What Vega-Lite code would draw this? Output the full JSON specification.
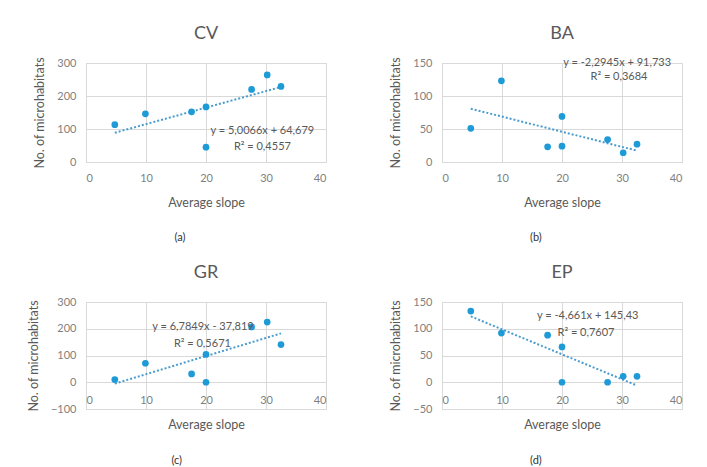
{
  "$schema": "https://vega.github.io/schema/vega-lite/v6.json",
  "background": "white",
  "padding": {"left": 26, "top": 24, "right": 5, "bottom": 0},
  "datasets": {
    "pts": [
      {"panel": "CV", "slope": 4.8, "n": 113},
      {"panel": "CV", "slope": 9.9, "n": 146},
      {"panel": "CV", "slope": 17.6, "n": 152},
      {"panel": "CV", "slope": 20, "n": 167},
      {"panel": "CV", "slope": 20, "n": 45},
      {"panel": "CV", "slope": 27.6, "n": 220},
      {"panel": "CV", "slope": 30.2, "n": 264},
      {"panel": "CV", "slope": 32.5, "n": 229},
      {"panel": "BA", "slope": 4.8, "n": 51},
      {"panel": "BA", "slope": 9.9, "n": 123},
      {"panel": "BA", "slope": 17.6, "n": 23},
      {"panel": "BA", "slope": 20, "n": 24},
      {"panel": "BA", "slope": 20, "n": 69},
      {"panel": "BA", "slope": 27.6, "n": 34},
      {"panel": "BA", "slope": 30.2, "n": 14},
      {"panel": "BA", "slope": 32.5, "n": 27},
      {"panel": "GR", "slope": 4.8, "n": 10},
      {"panel": "GR", "slope": 9.9, "n": 71},
      {"panel": "GR", "slope": 17.6, "n": 31},
      {"panel": "GR", "slope": 20, "n": 104},
      {"panel": "GR", "slope": 20, "n": 0},
      {"panel": "GR", "slope": 27.6, "n": 207},
      {"panel": "GR", "slope": 30.2, "n": 225},
      {"panel": "GR", "slope": 32.5, "n": 141},
      {"panel": "EP", "slope": 4.8, "n": 133},
      {"panel": "EP", "slope": 9.9, "n": 92},
      {"panel": "EP", "slope": 17.6, "n": 88},
      {"panel": "EP", "slope": 20, "n": 66},
      {"panel": "EP", "slope": 20, "n": 0},
      {"panel": "EP", "slope": 27.6, "n": 0},
      {"panel": "EP", "slope": 30.2, "n": 11},
      {"panel": "EP", "slope": 32.5, "n": 11}
    ],
    "trend": [
      {"panel": "CV", "slope": 4.8, "n": 88.7},
      {"panel": "CV", "slope": 32.5, "n": 227.4},
      {"panel": "BA", "slope": 4.8, "n": 80.7},
      {"panel": "BA", "slope": 32.5, "n": 17.2},
      {"panel": "GR", "slope": 4.8, "n": -5.2},
      {"panel": "GR", "slope": 32.5, "n": 182.7},
      {"panel": "EP", "slope": 4.8, "n": 123.1},
      {"panel": "EP", "slope": 32.5, "n": -6.1}
    ],
    "labels": [
      {"panel": "CV", "slope": 29.4, "n": 94, "text": "y = 5,0066x  + 64,679"},
      {"panel": "CV", "slope": 29.4, "n": 45, "text": "R² = 0,4557"},
      {"panel": "BA", "slope": 29.2, "n": 150, "text": "y = -2,2945x  + 91,733"},
      {"panel": "BA", "slope": 29.5, "n": 129, "text": "R² = 0,3684"},
      {"panel": "GR", "slope": 19.5, "n": 207, "text": "y = 6,7849x  - 37,819"},
      {"panel": "GR", "slope": 19.4, "n": 143, "text": "R² = 0,5671"},
      {"panel": "EP", "slope": 24.3, "n": 124, "text": "y = -4,661x  + 145,43"},
      {"panel": "EP", "slope": 24.0, "n": 92, "text": "R² = 0,7607"}
    ]
  },
  "vconcat": [
    {
      "hconcat": [
        {
          "title": {"text": "(a)", "orient": "bottom", "anchor": "middle", "fontSize": 11, "color": "#333333", "offset": 23},
          "vconcat": [
            {
              "width": 240, "height": 99,
              "title": {"text": "CV"},
              "encoding": {
                "x": {"field": "slope", "type": "quantitative", "scale": {"domain": [0, 40]}, "axis": {"values": [0, 10, 20, 30, 40], "title": "Average slope", "titlePadding": 13}},
                "y": {"field": "n", "type": "quantitative", "scale": {"domain": [0, 300]}, "axis": {"values": [0, 100, 200, 300], "title": "No. of microhabitats"}}
              },
              "layer": [
                {"data": {"name": "trend"}, "transform": [{"filter": "datum.panel == 'CV'"}], "mark": {"type": "line", "color": "#4A9CCF", "strokeWidth": 2, "strokeDash": [2, 2]}},
                {"data": {"name": "pts"}, "transform": [{"filter": "datum.panel == 'CV'"}], "mark": {"type": "circle", "size": 45, "color": "#1E9BD7", "opacity": 1}},
                {"data": {"name": "labels"}, "transform": [{"filter": "datum.panel == 'CV'"}], "mark": {"type": "text", "fontSize": 11, "color": "#595959", "align": "center", "baseline": "middle"}, "encoding": {"text": {"field": "text"}}}
              ]
            }
          ]
        },
        {
          "title": {"text": "(b)", "orient": "bottom", "anchor": "middle", "fontSize": 11, "color": "#333333", "offset": 23},
          "vconcat": [
            {
              "width": 240, "height": 99,
              "title": {"text": "BA"},
              "encoding": {
                "x": {"field": "slope", "type": "quantitative", "scale": {"domain": [0, 40]}, "axis": {"values": [0, 10, 20, 30, 40], "title": "Average slope", "titlePadding": 13}},
                "y": {"field": "n", "type": "quantitative", "scale": {"domain": [0, 150]}, "axis": {"values": [0, 50, 100, 150], "title": "No. of microhabitats"}}
              },
              "layer": [
                {"data": {"name": "trend"}, "transform": [{"filter": "datum.panel == 'BA'"}], "mark": {"type": "line", "color": "#4A9CCF", "strokeWidth": 2, "strokeDash": [2, 2]}},
                {"data": {"name": "pts"}, "transform": [{"filter": "datum.panel == 'BA'"}], "mark": {"type": "circle", "size": 45, "color": "#1E9BD7", "opacity": 1}},
                {"data": {"name": "labels"}, "transform": [{"filter": "datum.panel == 'BA'"}], "mark": {"type": "text", "fontSize": 11, "color": "#595959", "align": "center", "baseline": "middle"}, "encoding": {"text": {"field": "text"}}}
              ]
            }
          ]
        }
      ],
      "spacing": 62
    },
    {
      "hconcat": [
        {
          "title": {"text": "(c)", "orient": "bottom", "anchor": "middle", "fontSize": 11, "color": "#333333", "offset": 24},
          "vconcat": [
            {
              "width": 240, "height": 107,
              "title": {"text": "GR"},
              "encoding": {
                "x": {"field": "slope", "type": "quantitative", "scale": {"domain": [0, 40]}, "axis": {"values": [0, 10, 20, 30, 40], "title": "Average slope", "offset": -26.75, "labelPadding": 12, "titleY": 42, "titleBaseline": "middle"}},
                "y": {"field": "n", "type": "quantitative", "scale": {"domain": [-100, 300]}, "axis": {"values": [-100, 0, 100, 200, 300], "title": "No. of microhabitats"}}
              },
              "layer": [
                {"data": {"name": "trend"}, "transform": [{"filter": "datum.panel == 'GR'"}], "mark": {"type": "line", "color": "#4A9CCF", "strokeWidth": 2, "strokeDash": [2, 2]}},
                {"data": {"name": "pts"}, "transform": [{"filter": "datum.panel == 'GR'"}], "mark": {"type": "circle", "size": 45, "color": "#1E9BD7", "opacity": 1}},
                {"data": {"name": "labels"}, "transform": [{"filter": "datum.panel == 'GR'"}], "mark": {"type": "text", "fontSize": 11, "color": "#595959", "align": "center", "baseline": "middle"}, "encoding": {"text": {"field": "text"}}}
              ]
            }
          ]
        },
        {
          "title": {"text": "(d)", "orient": "bottom", "anchor": "middle", "fontSize": 11, "color": "#333333", "offset": 24},
          "vconcat": [
            {
              "width": 240, "height": 107,
              "title": {"text": "EP"},
              "encoding": {
                "x": {"field": "slope", "type": "quantitative", "scale": {"domain": [0, 40]}, "axis": {"values": [0, 10, 20, 30, 40], "title": "Average slope", "offset": -26.75, "labelPadding": 12, "titleY": 42, "titleBaseline": "middle"}},
                "y": {"field": "n", "type": "quantitative", "scale": {"domain": [-50, 150]}, "axis": {"values": [-50, 0, 50, 100, 150], "title": "No. of microhabitats"}}
              },
              "layer": [
                {"data": {"name": "trend"}, "transform": [{"filter": "datum.panel == 'EP'"}], "mark": {"type": "line", "color": "#4A9CCF", "strokeWidth": 2, "strokeDash": [2, 2]}},
                {"data": {"name": "pts"}, "transform": [{"filter": "datum.panel == 'EP'"}], "mark": {"type": "circle", "size": 45, "color": "#1E9BD7", "opacity": 1}},
                {"data": {"name": "labels"}, "transform": [{"filter": "datum.panel == 'EP'"}], "mark": {"type": "text", "fontSize": 11, "color": "#595959", "align": "center", "baseline": "middle"}, "encoding": {"text": {"field": "text"}}}
              ]
            }
          ]
        }
      ],
      "spacing": 62
    }
  ],
  "spacing": 20,
  "config": {
    "font": "Lato",
    "view": {"stroke": "#D9D9D9"},
    "axis": {
      "gridColor": "#D9D9D9",
      "domain": false,
      "ticks": false,
      "labelColor": "#7F7F7F",
      "labelFontSize": 11,
      "labelPadding": 10,
      "titleColor": "#595959",
      "titleFontSize": 12.5,
      "titleFontWeight": "normal",
      "titlePadding": 10
    },
    "title": {"fontSize": 18, "fontWeight": "normal", "color": "#595959", "offset": 14}
  }
}
